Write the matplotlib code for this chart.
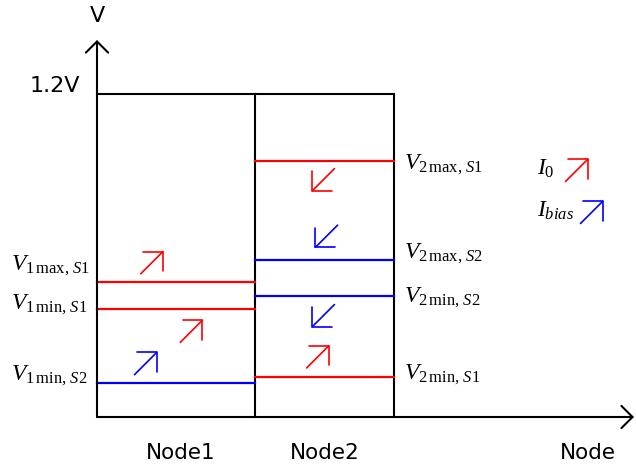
import matplotlib.pyplot as plt

plt.rcParams['mathtext.fontset'] = 'custom'
plt.rcParams['mathtext.rm'] = 'Liberation Serif'
plt.rcParams['mathtext.it'] = 'Liberation Serif:italic'

# diagram data
vmax = 1.2
node_names = ['Node1', 'Node2']
node_edges = [0.0, 1.0, 1.88]

# voltage levels per node (node index, value, colour, label)
level_node = [0, 0, 0, 1, 1, 1, 1]
level_value = [0.50, 0.40, 0.125, 0.95, 0.585, 0.45, 0.15]
level_color = ['red', 'red', 'blue', 'red', 'blue', 'blue', 'red']
level_label = [r'$V_{1\,\mathrm{max},\,S1}$', r'$V_{1\,\mathrm{min},\,S1}$',
               r'$V_{1\,\mathrm{min},\,S2}$', r'$V_{2\,\mathrm{max},\,S1}$',
               r'$V_{2\,\mathrm{max},\,S2}$', r'$V_{2\,\mathrm{min},\,S2}$',
               r'$V_{2\,\mathrm{min},\,S1}$']
# vertical shift of each label baseline (px, + = up)
label_shift = [12, 0, 3, -8, 1, -6, -3]

# current arrows: centre x, centre y, direction (+1 up-right, -1 down-left), colour
arrow_x = [0.35, 0.60, 0.31, 1.43, 1.45, 1.43, 1.40]
arrow_y = [0.575, 0.32, 0.20, 0.88, 0.67, 0.375, 0.225]
arrow_dir = [1, 1, 1, -1, -1, -1, 1]
arrow_color = ['red', 'red', 'blue', 'red', 'blue', 'blue', 'red']

legend_labels = [r'$I_0$', r'$I_{bias}$']
legend_colors = ['red', 'blue']

fig = plt.figure(figsize=(6.36, 4.71), dpi=100)
ax = fig.add_axes([0, 0, 1, 1])
px_x = 158.0
px_y = 269.17
ax.set_xlim(-97 / px_x, (636 - 97) / px_x)
ax.set_ylim(-(471 - 417) / px_y, 417 / px_y)
ax.axis('off')

def dx(p):
    return p / px_x

def dy(p):
    return p / px_y

# axes with arrow heads
ax.annotate('', xy=(0, dy(377)), xytext=(0, 0),
            arrowprops=dict(arrowstyle='->,head_length=0.8,head_width=0.8', color='black', lw=1.5,
                            shrinkA=0, shrinkB=0))
ax.annotate('', xy=(dx(537), 0), xytext=(0, 0),
            arrowprops=dict(arrowstyle='->,head_length=0.8,head_width=0.8', color='black', lw=1.5,
                            shrinkA=0, shrinkB=0))

# node boxes
ax.plot([node_edges[0], node_edges[-1]], [vmax, vmax], color='black', lw=1.5)
for e in node_edges[1:]:
    ax.plot([e, e], [0, vmax], color='black', lw=1.5)

ax.text(-dx(17), vmax + dy(2), '1.2V', ha='right', va='baseline', fontsize=16)
ax.text(0, dy(395), 'V', ha='center', va='baseline', fontsize=16)

for i, name in enumerate(node_names):
    xc = (node_edges[i] + node_edges[i + 1]) / 2
    ax.text(xc + dx(5 if i == 0 else 0), -dy(36), name, ha='center', va='center', fontsize=15.5)
ax.text(dx(491), -dy(36), 'Node', ha='center', va='center', fontsize=15.5)

# levels and labels
for n, v, c, lab, s in zip(level_node, level_value, level_color, level_label, label_shift):
    ax.plot([node_edges[n], node_edges[n + 1]], [v, v], color=c, lw=1.6)
    if n == 0:
        ax.text(-dx(86), v + dy(s), lab, ha='left', va='baseline', fontsize=17)
    else:
        ax.text(node_edges[-1] + dx(10), v + dy(s), lab, ha='left', va='baseline', fontsize=17)

# current arrows
h = 11.5
style = '->,head_length=1.0,head_width=1.0'
for x, y, d, c in zip(arrow_x, arrow_y, arrow_dir, arrow_color):
    ax.annotate('', xy=(x + d * dx(h), y + d * dy(h)), xytext=(x - d * dx(h), y - d * dy(h)),
                arrowprops=dict(arrowstyle=style, color=c, lw=1.2, shrinkA=0, shrinkB=0))

# legend
for i, (lab, c) in enumerate(zip(legend_labels, legend_colors)):
    ty = dy(417 - 175 - i * 42)
    ax.text(dx(537 - 97), ty, lab, ha='left', va='baseline', fontsize=17)
    cx = dx(577 - 97 + i * 15)
    cy = dy(417 - 170 - i * 42)
    ax.annotate('', xy=(cx + dx(h), cy + dy(h)), xytext=(cx - dx(h), cy - dy(h)),
                arrowprops=dict(arrowstyle=style, color=c, lw=1.2, shrinkA=0, shrinkB=0))

fig.savefig('out.png', dpi=100)
